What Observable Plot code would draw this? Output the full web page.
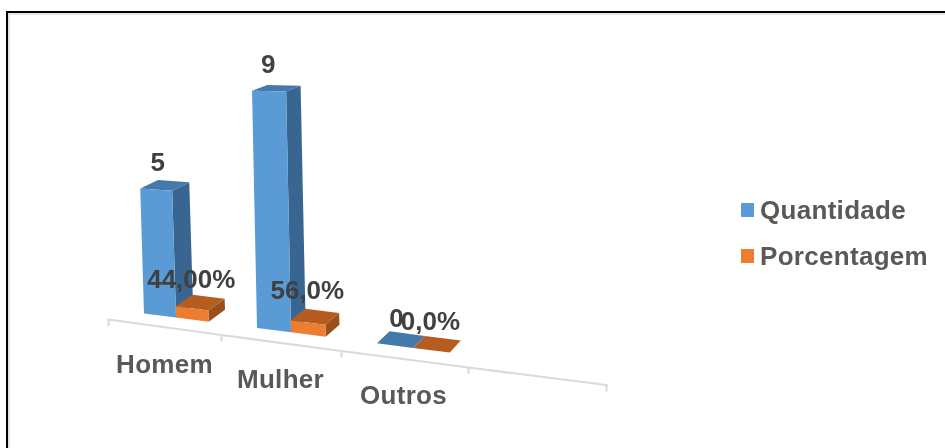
<!DOCTYPE html>
<html><head><meta charset="utf-8">
<script src="https://cdn.jsdelivr.net/npm/d3@7"></script>
<script src="https://cdn.jsdelivr.net/npm/@observablehq/plot@0.6"></script>
<style>
html,body{margin:0;padding:0;background:#fff;overflow:hidden}
#frame{position:absolute;left:6px;top:11px;width:945px;height:445px;border-left:2px solid #000;border-top:2px solid #000;box-shadow:inset 2px 2px 0 #e4e4e4}
#chart{position:absolute;left:0;top:0}
#chart svg{filter:blur(.45px)}
.cat,.leg{letter-spacing:.3px}
</style></head><body>
<div id="frame"></div><div id="chart"></div>
<script>
const categorias = ["Homem", "Mulher", "Outros"];
const quantidade = [5, 9, 0];
const porcentagem = [0.44, 0.56, 0];
const porcentagemDesenhada = [0.44, 0.44, 0];
const rotulosQuantidade = ["5", "9", "0"];
const rotulosPorcentagem = ["44,00%", "56,0%", "0,0%"];
const series = ["Quantidade", "Porcentagem"];

// Oblique "3D" projection from (category position, depth, value) to the page.
const frontX = c => 143.5 + 109.5 * c + 3.5 * c * c;
const frontY = x => 313 + (x - 144) * 0.128;
const unit = x => 25 + (x - 144) * 0.012;
function project(c, d, v) {
  const x0 = frontX(c), h = v * unit(x0);
  const x = x0 - 0.03 * Math.min(h, 165) + d * (17 - (x0 - 176) * 0.022);
  const y = frontY(x0) - h + d * (-12 + 0.7 * v);
  return {x, y};
}
const WIDTH = 0.29;
function faces(c, v, id) {
  const poly = (name, pts) => pts.map(([a, d, w]) => ({...project(c + a * WIDTH, d, w), id: id + name}));
  return {
    front: poly("f", [[0,0,0],[1,0,0],[1,0,v],[0,0,v]]),
    top: poly("t", [[0,0,v],[1,0,v],[1,1,v],[0,1,v]]),
    side: poly("s", [[1,0,0],[1,1,0],[1,1,v],[1,0,v]])
  };
}
const blue = categorias.map((_, i) => faces(i, quantidade[i], "q" + i));
const orange = categorias.map((_, i) => faces(i + WIDTH, porcentagemDesenhada[i], "p" + i));
const face = (set, k, fill) => Plot.line(set.flatMap(f => f[k]), {x: "x", y: "y", z: "id", fill, stroke: "none", curve: "linear-closed"});

// Category axis
const axisX = d3.scaleLinear().domain([0, 1, 2, 3, 4]).range([108, 221, 341, 468, 606]);
const axisY = d3.scaleLinear().domain([0, 1, 2, 3, 4]).range([319, 334.5, 350.5, 367, 384.5]);
const axisTicks = d3.range(5);
const axisLine = axisTicks.map(t => ({x: axisX(t), y: axisY(t)}));
const catLabels = categorias.map((name, i) => ({name, x: (axisX(i) + axisX(i + 1)) / 2 - 0.5 * (i + 1), y: axisY(i) + 45}));

const lblQ = categorias.map((_, i) => {
  const x = frontX(i + WIDTH / 2);
  return {t: rotulosQuantidade[i], x: x - 0.03 * quantidade[i] * unit(x) + 1.5, y: frontY(x) - quantidade[i] * unit(x) - 26.5};
});
const lblP = categorias.map((_, i) => {
  const x = frontX(i + 1.5 * WIDTH);
  return {t: rotulosPorcentagem[i], x: x - 1, y: frontY(x) - porcentagem[i] * unit(x) - 28.5};
});
const legend = series.map((name, i) => ({name, y: 210 + i * 46, color: ["#5B9BD5", "#ED7D31"][i]}));

const plot = Plot.plot({
  width: 945, height: 448, margin: 0,
  x: {domain: [0, 945], range: [0, 945], axis: null},
  y: {domain: [448, 0], range: [448, 0], axis: null},
  style: {background: "transparent", fontFamily: "'Liberation Sans',Arial,sans-serif", overflow: "visible"},
  marks: [
    Plot.line(axisLine, {x: "x", y: "y", stroke: "#DADADA", strokeWidth: 2.2}),
    Plot.ruleX(axisLine, {x: "x", y1: "y", y2: d => d.y + 7, stroke: "#DADADA", strokeWidth: 2.2}),
    face(blue, "side", "#386690"),
    face(blue, "top", "#4579A9"),
    face(blue, "front", "#5B9BD5"),
    face(orange, "side", "#9A5018"),
    face(orange, "top", "#B55D20"),
    face(orange, "front", "#ED7D31"),
    Plot.text(catLabels, {x: "x", y: "y", text: "name", fontSize: 26, fontWeight: "bold", fill: "#595959", className: "cat"}),
    Plot.text(lblQ, {x: "x", y: "y", text: "t", fontSize: 26, fontWeight: "bold", fill: "#404040"}),
    Plot.text(lblP, {x: "x", y: "y", text: "t", fontSize: 26, fontWeight: "bold", fill: "#404040"}),
    Plot.rect(legend, {x1: () => 741, x2: () => 754, y1: d => d.y - 7, y2: d => d.y + 7, fill: "color"}),
    Plot.text(legend, {x: () => 759.5, y: "y", text: "name", textAnchor: "start", fontSize: 26, fontWeight: "bold", fill: "#595959", className: "leg"})
  ],
  color: {type: "identity"}
});
document.getElementById("chart").append(plot);
</script></body></html>
